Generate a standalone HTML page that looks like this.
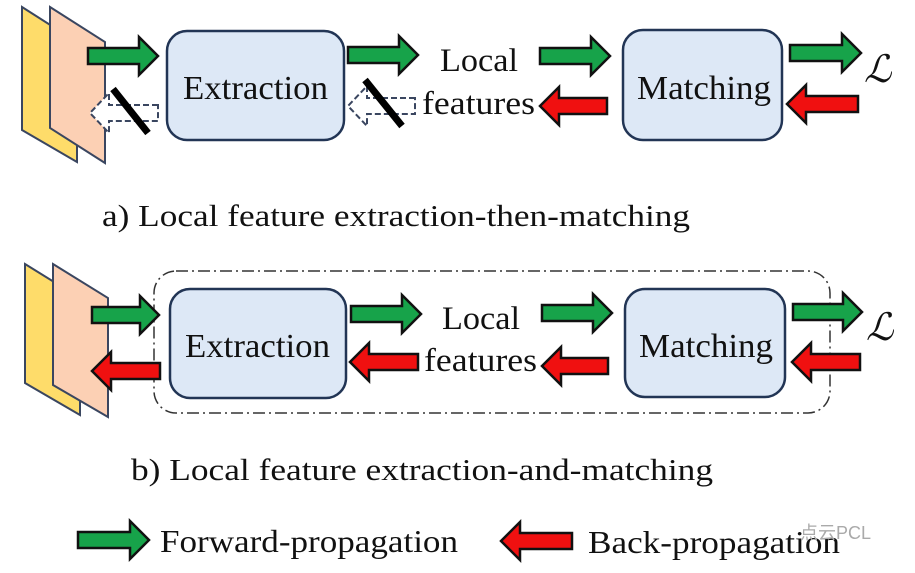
<!DOCTYPE html>
<html><head><meta charset="utf-8"><style>
html,body{margin:0;padding:0;background:#fff;}
svg{display:block;}
text{font-family:"Liberation Serif",serif;fill:#111;}
</style></head><body>
<svg width="915" height="573" viewBox="0 0 915 573" xmlns="http://www.w3.org/2000/svg">
<polygon points="22,7 77,42 77,162 22,130" fill="#fedc6a" stroke="#3a4660" stroke-width="2"/>
<polygon points="50,7 105,42 105,163 50,128" fill="#fcd0b4" stroke="#3a4660" stroke-width="2"/>
<rect x="167" y="31" width="177" height="109" rx="20" fill="#dde8f6" stroke="#223555" stroke-width="2.5"/>
<text x="183" y="99" font-size="34" textLength="145" lengthAdjust="spacingAndGlyphs">Extraction</text>
<rect x="623" y="30" width="159" height="110" rx="20" fill="#dde8f6" stroke="#223555" stroke-width="2.5"/>
<text x="637" y="99" font-size="34" textLength="134" lengthAdjust="spacingAndGlyphs">Matching</text>
<text x="440" y="71" font-size="33" textLength="78" lengthAdjust="spacingAndGlyphs">Local</text>
<text x="422" y="114" font-size="33" textLength="113" lengthAdjust="spacingAndGlyphs">features</text>
<text x="864" y="82" font-size="38" font-style="italic">ℒ</text>

<g fill="#17a34a" stroke="#111" stroke-width="2.5">
<path d="M88,48 H139 V37 L158,56 L139,75 V64 H88 Z"/>
<path d="M348,47 H399 V36 L418,55 L399,74 V63 H348 Z"/>
<path d="M540,48 H591 V37 L610,56 L591,75 V64 H540 Z"/>
<path d="M790,45 H842 V34 L861,53 L842,72 V61 H790 Z"/>
</g>
<g fill="#f01010" stroke="#111" stroke-width="2.5">
<path d="M607,98 H559 V87 L540,106 L559,125 V114 H607 Z"/>
<path d="M858,96 H806 V85 L787,104 L806,123 V112 H858 Z"/>
</g>
<g fill="#fff" stroke="#3a4660" stroke-width="2" stroke-dasharray="6,3">
<path d="M158,105 H109 V93 L90,113 L109,133 V121 H158 Z"/>
<path d="M415,98 H367 V86 L348,106 L367,126 V114 H415 Z"/>
</g>
<g stroke="#000" stroke-width="7">
<line x1="113" y1="89" x2="148" y2="133"/>
<line x1="365" y1="80" x2="402" y2="126"/>
</g>
<text x="102" y="226" font-size="31" textLength="588" lengthAdjust="spacingAndGlyphs">a) Local feature extraction-then-matching</text>

<polygon points="25,264 80,298 80,415 25,383" fill="#fedc6a" stroke="#3a4660" stroke-width="2"/>
<polygon points="53,264 108,298 108,417 53,385" fill="#fcd0b4" stroke="#3a4660" stroke-width="2"/>
<rect x="154" y="271" width="676" height="142" rx="22" fill="none" stroke="#333" stroke-width="1.5" stroke-dasharray="12,4,2,4"/>
<rect x="170" y="289" width="176" height="109" rx="20" fill="#dde8f6" stroke="#223555" stroke-width="2.5"/>
<text x="185" y="357" font-size="34" textLength="145" lengthAdjust="spacingAndGlyphs">Extraction</text>
<rect x="625" y="289" width="160" height="108" rx="20" fill="#dde8f6" stroke="#223555" stroke-width="2.5"/>
<text x="639" y="357" font-size="34" textLength="134" lengthAdjust="spacingAndGlyphs">Matching</text>
<text x="442" y="329" font-size="33" textLength="78" lengthAdjust="spacingAndGlyphs">Local</text>
<text x="424" y="371" font-size="33" textLength="113" lengthAdjust="spacingAndGlyphs">features</text>
<text x="866" y="340" font-size="38" font-style="italic">ℒ</text>

<g fill="#17a34a" stroke="#111" stroke-width="2.5">
<path d="M92,307 H140 V296 L159,315 L140,334 V323 H92 Z"/>
<path d="M351,306 H402 V295 L421,314 L402,333 V322 H351 Z"/>
<path d="M542,305 H593 V294 L612,313 L593,332 V321 H542 Z"/>
<path d="M793,304 H843 V293 L862,312 L843,331 V320 H793 Z"/>
</g>
<g fill="#f01010" stroke="#111" stroke-width="2.5">
<path d="M160,363 H111 V352 L92,371 L111,390 V379 H160 Z"/>
<path d="M418,354 H369 V343 L350,362 L369,381 V370 H418 Z"/>
<path d="M608,358 H561 V347 L542,366 L561,385 V374 H608 Z"/>
<path d="M860,354 H811 V343 L792,362 L811,381 V370 H860 Z"/>
</g>
<text x="131" y="480" font-size="31" textLength="582" lengthAdjust="spacingAndGlyphs">b) Local feature extraction-and-matching</text>

<path d="M78,532 H130 V521 L149,540 L130,559 V548 H78 Z" fill="#17a34a" stroke="#111" stroke-width="2.5"/>
<text x="160" y="552" font-size="32" textLength="298" lengthAdjust="spacingAndGlyphs">Forward-propagation</text>
<path d="M572,533 H520 V522 L501,541 L520,560 V549 H572 Z" fill="#f01010" stroke="#111" stroke-width="2.5"/>
<text x="588" y="553" font-size="32" textLength="252" lengthAdjust="spacingAndGlyphs">Back-propagation</text>
<text x="800" y="539" font-size="18" style="fill:#aaa;font-family:'Liberation Sans','Noto Sans CJK SC',sans-serif">点云PCL</text>
</svg>
</body></html>
